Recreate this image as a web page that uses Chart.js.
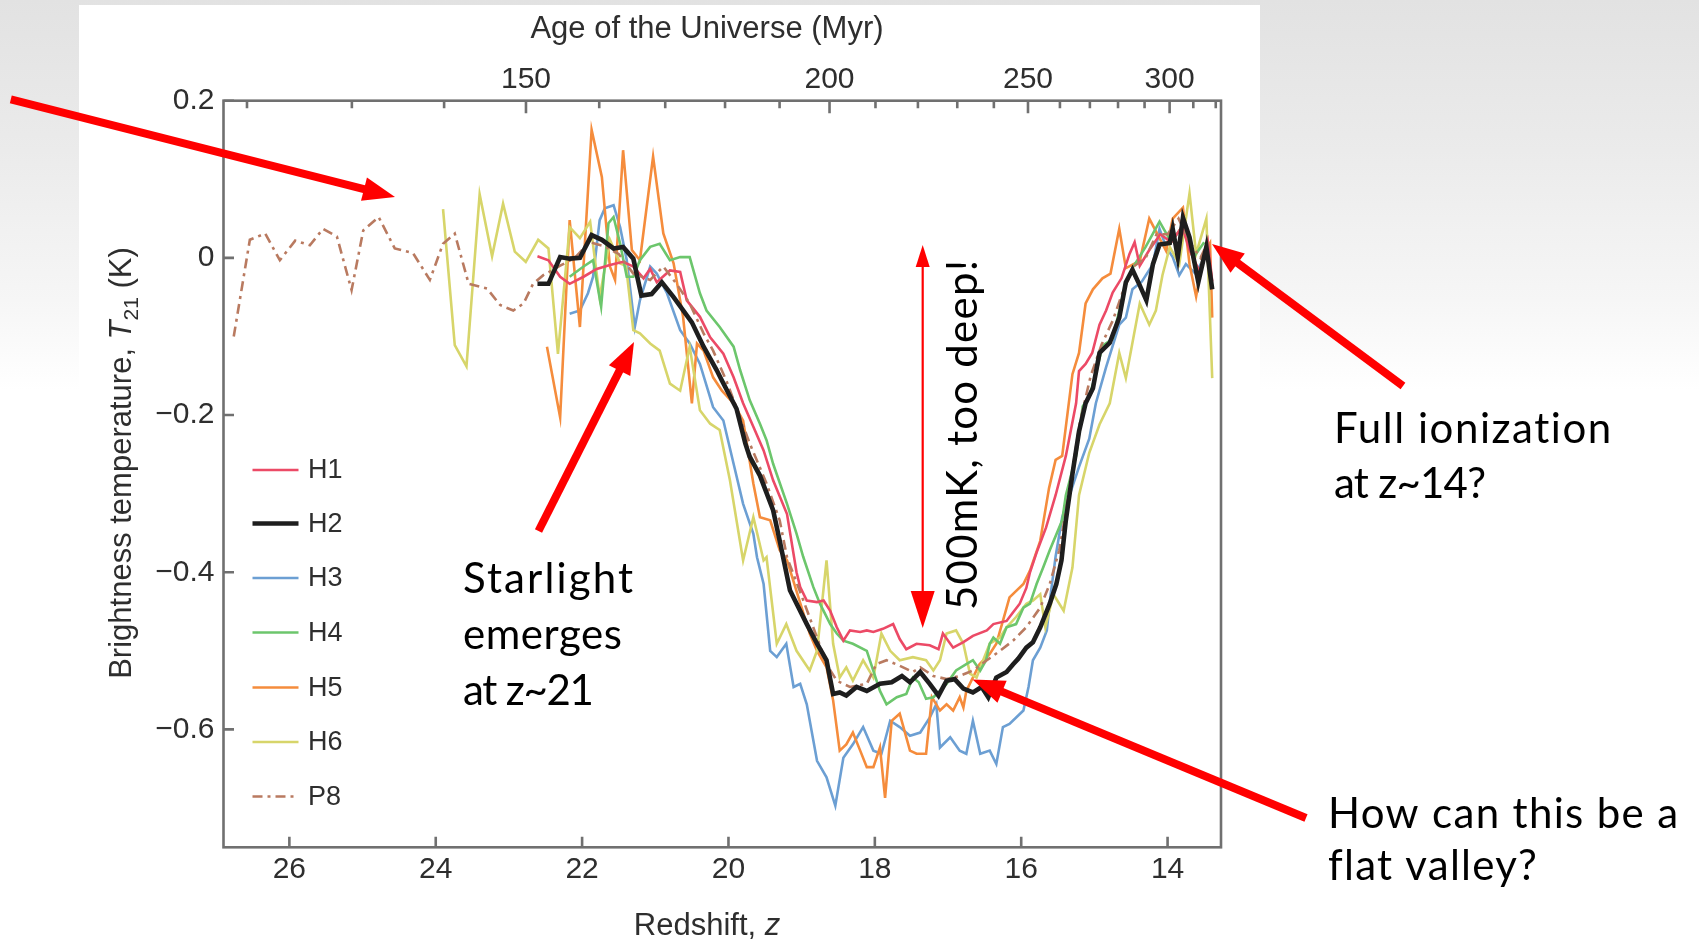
<!DOCTYPE html>
<html><head><meta charset="utf-8">
<script src="https://cdn.jsdelivr.net/npm/chart.js@4.4.1/dist/chart.umd.min.js"></script>
<style>
html,body{margin:0;padding:0;}
body{width:1699px;height:940px;overflow:hidden;position:relative;
 background:linear-gradient(to bottom,#e2e2e2 0px,#ebebeb 150px,#f6f6f6 300px,#ffffff 390px,#ffffff 940px);}
#panel{position:absolute;left:79px;top:5px;width:1181px;height:935px;background:#fff;}
#c{position:absolute;left:0;top:0;}
</style></head>
<body><div id="panel"></div><canvas id="c" width="1699" height="940"></canvas>
<script>
// ---------- data (redshift z, brightness temperature T21 in K) ----------
const H1 = [[22.61,0.002],[22.46,-0.003],[22.30,-0.024],[22.17,-0.033],[21.98,-0.024],[21.80,-0.014],[21.62,-0.009],[21.44,-0.005],[21.30,-0.011],[21.16,-0.026],[21.07,-0.014],[20.98,-0.031],[20.80,-0.016],[20.66,-0.018],[20.57,-0.054],[20.39,-0.075],[20.25,-0.101],[20.07,-0.122],[19.93,-0.152],[19.80,-0.185],[19.66,-0.215],[19.52,-0.245],[19.39,-0.283],[19.20,-0.326],[19.07,-0.400],[19.02,-0.419],[18.93,-0.436],[18.79,-0.438],[18.70,-0.436],[18.61,-0.449],[18.52,-0.470],[18.43,-0.487],[18.34,-0.474],[18.20,-0.476],[18.11,-0.474],[18.02,-0.476],[17.89,-0.472],[17.75,-0.466],[17.66,-0.485],[17.57,-0.498],[17.43,-0.491],[17.25,-0.493],[17.13,-0.498],[17.07,-0.478],[16.93,-0.496],[16.79,-0.489],[16.66,-0.481],[16.47,-0.474],[16.38,-0.466],[16.20,-0.462],[16.11,-0.451],[16.02,-0.440],[15.93,-0.420],[15.88,-0.400],[15.79,-0.375],[15.66,-0.343],[15.53,-0.302],[15.39,-0.252],[15.25,-0.185],[15.21,-0.144],[15.12,-0.135],[15.03,-0.121],[14.93,-0.085],[14.84,-0.067],[14.75,-0.044],[14.63,-0.026],[14.52,0.005],[14.45,0.020],[14.38,-0.010],[14.25,0.010],[14.10,0.030],[13.95,0.020],[13.80,0.040],[13.70,0.010],[13.55,-0.020],[13.45,0.020],[13.39,-0.030]];
const H2 = [[22.61,-0.033],[22.46,-0.033],[22.30,0.001],[22.17,-0.001],[22.03,0.000],[21.87,0.029],[21.73,0.023],[21.57,0.012],[21.44,0.014],[21.30,-0.001],[21.19,-0.048],[21.05,-0.046],[20.91,-0.031],[20.75,-0.050],[20.50,-0.082],[20.34,-0.113],[20.16,-0.143],[20.09,-0.156],[19.89,-0.192],[19.77,-0.236],[19.71,-0.253],[19.57,-0.277],[19.39,-0.321],[19.30,-0.360],[19.16,-0.423],[18.93,-0.466],[18.79,-0.491],[18.66,-0.512],[18.57,-0.555],[18.48,-0.553],[18.39,-0.557],[18.25,-0.546],[18.11,-0.551],[17.93,-0.542],[17.77,-0.540],[17.63,-0.532],[17.52,-0.540],[17.38,-0.527],[17.25,-0.542],[17.13,-0.557],[17.02,-0.538],[16.91,-0.536],[16.79,-0.548],[16.66,-0.553],[16.54,-0.546],[16.45,-0.559],[16.34,-0.534],[16.20,-0.527],[16.11,-0.517],[16.04,-0.510],[15.93,-0.496],[15.84,-0.489],[15.74,-0.470],[15.61,-0.440],[15.52,-0.415],[15.45,-0.385],[15.39,-0.334],[15.30,-0.275],[15.21,-0.221],[15.12,-0.185],[15.02,-0.166],[14.93,-0.121],[14.79,-0.108],[14.66,-0.076],[14.57,-0.031],[14.48,-0.015],[14.38,-0.035],[14.29,-0.054],[14.20,-0.008],[14.11,0.017],[13.97,0.019],[13.93,0.037],[13.86,0.001],[13.79,0.051],[13.70,0.026],[13.58,-0.031],[13.47,0.014],[13.39,-0.040]];
const H3 = [[22.17,-0.071],[22.03,-0.067],[21.92,-0.045],[21.85,-0.024],[21.76,0.048],[21.69,0.063],[21.57,0.067],[21.48,0.039],[21.39,-0.003],[21.28,-0.088],[21.21,-0.054],[21.07,-0.011],[20.98,-0.020],[20.84,-0.045],[20.66,-0.092],[20.53,-0.109],[20.39,-0.135],[20.21,-0.190],[20.07,-0.207],[19.93,-0.262],[19.80,-0.313],[19.66,-0.351],[19.61,-0.381],[19.52,-0.415],[19.43,-0.500],[19.34,-0.508],[19.21,-0.491],[19.11,-0.546],[19.02,-0.542],[18.93,-0.568],[18.79,-0.640],[18.66,-0.661],[18.54,-0.697],[18.43,-0.636],[18.30,-0.619],[18.16,-0.597],[18.02,-0.627],[17.91,-0.631],[17.79,-0.589],[17.66,-0.597],[17.52,-0.608],[17.38,-0.604],[17.25,-0.585],[17.16,-0.568],[17.11,-0.623],[16.97,-0.610],[16.84,-0.627],[16.75,-0.631],[16.66,-0.589],[16.56,-0.631],[16.43,-0.627],[16.34,-0.644],[16.25,-0.597],[16.16,-0.593],[15.97,-0.576],[15.90,-0.546],[15.84,-0.512],[15.74,-0.496],[15.65,-0.474],[15.60,-0.430],[15.53,-0.380],[15.44,-0.330],[15.21,-0.266],[15.07,-0.230],[14.98,-0.185],[14.84,-0.139],[14.75,-0.112],[14.66,-0.085],[14.57,-0.076],[14.48,-0.040],[14.35,-0.030],[14.20,-0.008],[14.11,0.037],[14.02,0.014],[13.93,0.001],[13.84,-0.022],[13.75,-0.008],[13.62,-0.020],[13.50,0.000]];
const H4 = [[22.17,-0.024],[21.98,-0.011],[21.85,-0.003],[21.74,-0.062],[21.64,0.044],[21.57,0.052],[21.48,0.018],[21.39,-0.024],[21.30,-0.024],[21.21,-0.003],[21.07,0.014],[20.94,0.018],[20.80,-0.003],[20.66,0.001],[20.53,0.001],[20.39,-0.045],[20.30,-0.067],[20.12,-0.088],[19.93,-0.113],[19.84,-0.143],[19.71,-0.181],[19.57,-0.211],[19.48,-0.232],[19.39,-0.262],[19.20,-0.313],[19.07,-0.351],[18.98,-0.380],[18.84,-0.419],[18.75,-0.440],[18.61,-0.466],[18.52,-0.478],[18.43,-0.487],[18.30,-0.491],[18.11,-0.500],[17.93,-0.551],[17.84,-0.568],[17.70,-0.559],[17.57,-0.555],[17.48,-0.534],[17.40,-0.540],[17.30,-0.561],[17.20,-0.559],[17.11,-0.551],[17.02,-0.542],[16.89,-0.525],[16.75,-0.517],[16.66,-0.512],[16.56,-0.525],[16.48,-0.512],[16.43,-0.491],[16.38,-0.483],[16.29,-0.491],[16.20,-0.470],[16.07,-0.466],[15.97,-0.445],[15.88,-0.440],[15.79,-0.415],[15.70,-0.394],[15.61,-0.372],[15.44,-0.334],[15.39,-0.302],[15.25,-0.252],[15.16,-0.189],[15.07,-0.176],[14.98,-0.148],[14.89,-0.112],[14.75,-0.103],[14.66,-0.067],[14.57,-0.031],[14.48,-0.013],[14.30,0.014],[14.11,0.046],[13.95,0.020],[13.80,0.040],[13.65,0.000],[13.50,0.020]];
const H5 = [[22.48,-0.113],[22.30,-0.203],[22.17,0.048],[22.03,-0.088],[21.87,0.163],[21.73,0.103],[21.62,-0.011],[21.55,-0.028],[21.44,0.137],[21.32,0.010],[21.21,-0.003],[21.03,0.129],[20.89,0.031],[20.75,-0.007],[20.62,-0.075],[20.50,-0.185],[20.43,-0.109],[20.34,-0.118],[20.21,-0.152],[20.09,-0.169],[19.93,-0.185],[19.80,-0.207],[19.66,-0.287],[19.57,-0.330],[19.43,-0.334],[19.30,-0.372],[19.20,-0.385],[19.05,-0.430],[18.89,-0.478],[18.79,-0.500],[18.66,-0.521],[18.57,-0.563],[18.48,-0.627],[18.39,-0.619],[18.30,-0.604],[18.20,-0.627],[18.11,-0.648],[18.02,-0.648],[17.93,-0.623],[17.86,-0.687],[17.77,-0.589],[17.66,-0.580],[17.52,-0.627],[17.43,-0.631],[17.30,-0.631],[17.22,-0.559],[17.11,-0.576],[17.02,-0.568],[16.93,-0.576],[16.84,-0.559],[16.79,-0.572],[16.75,-0.551],[16.57,-0.517],[16.43,-0.504],[16.34,-0.491],[16.25,-0.462],[16.16,-0.432],[15.97,-0.415],[15.88,-0.398],[15.74,-0.360],[15.62,-0.293],[15.53,-0.257],[15.44,-0.252],[15.30,-0.148],[15.21,-0.121],[15.12,-0.058],[15.02,-0.040],[14.89,-0.026],[14.78,-0.020],[14.66,0.037],[14.57,-0.013],[14.38,-0.004],[14.25,0.050],[14.02,0.009],[13.93,0.050],[13.79,0.064],[13.70,-0.008],[13.61,-0.049],[13.51,0.005],[13.42,0.019],[13.39,-0.076]];
const H6 = [[23.90,0.062],[23.74,-0.111],[23.58,-0.138],[23.40,0.081],[23.23,0.002],[23.08,0.069],[22.92,0.008],[22.77,-0.005],[22.60,0.023],[22.46,0.012],[22.33,-0.122],[22.17,0.039],[22.03,0.025],[21.89,0.046],[21.76,-0.050],[21.62,0.023],[21.48,-0.007],[21.40,-0.010],[21.30,-0.092],[21.21,-0.096],[21.07,-0.109],[20.94,-0.118],[20.80,-0.160],[20.66,-0.169],[20.53,-0.113],[20.39,-0.194],[20.25,-0.211],[20.12,-0.219],[19.98,-0.283],[19.80,-0.385],[19.66,-0.330],[19.52,-0.385],[19.48,-0.381],[19.34,-0.491],[19.21,-0.466],[19.07,-0.500],[18.89,-0.525],[18.79,-0.500],[18.66,-0.385],[18.57,-0.491],[18.48,-0.534],[18.39,-0.521],[18.30,-0.538],[18.16,-0.512],[18.02,-0.534],[17.91,-0.478],[17.79,-0.500],[17.66,-0.512],[17.48,-0.508],[17.30,-0.512],[17.20,-0.525],[17.11,-0.512],[17.02,-0.478],[16.89,-0.474],[16.79,-0.491],[16.70,-0.529],[16.61,-0.534],[16.52,-0.512],[16.43,-0.491],[16.29,-0.483],[16.20,-0.470],[16.07,-0.457],[15.93,-0.440],[15.84,-0.436],[15.74,-0.428],[15.67,-0.470],[15.56,-0.428],[15.42,-0.449],[15.30,-0.394],[15.21,-0.302],[15.07,-0.248],[14.93,-0.212],[14.79,-0.185],[14.66,-0.121],[14.57,-0.153],[14.48,-0.108],[14.38,-0.058],[14.25,-0.085],[14.16,-0.067],[14.07,-0.022],[13.97,0.014],[13.84,-0.008],[13.70,0.082],[13.61,0.005],[13.47,0.050],[13.39,-0.153]];
const P8 = [[26.76,-0.100],[26.54,0.023],[26.33,0.031],[26.13,-0.003],[25.92,0.022],[25.72,0.016],[25.54,0.037],[25.35,0.027],[25.15,-0.041],[24.99,0.035],[24.78,0.052],[24.56,0.012],[24.31,0.006],[24.08,-0.028],[23.90,0.018],[23.74,0.031],[23.55,-0.033],[23.30,-0.039],[23.12,-0.060],[22.94,-0.067],[22.80,-0.058],[22.67,-0.033],[22.53,-0.022],[22.30,-0.010],[22.10,0.000],[21.90,0.020],[21.70,0.015],[21.50,0.005],[21.30,-0.020],[21.07,-0.028],[20.89,-0.011],[20.71,-0.033],[20.53,-0.058],[20.34,-0.096],[20.21,-0.118],[20.03,-0.156],[19.84,-0.203],[19.71,-0.236],[19.48,-0.287],[19.30,-0.334],[19.20,-0.381],[19.00,-0.430],[18.79,-0.483],[18.66,-0.517],[18.52,-0.538],[18.34,-0.546],[18.11,-0.542],[17.98,-0.517],[17.84,-0.512],[17.66,-0.519],[17.48,-0.527],[17.38,-0.521],[17.20,-0.532],[17.02,-0.536],[16.84,-0.532],[16.66,-0.525],[16.47,-0.512],[16.29,-0.500],[16.11,-0.487],[15.93,-0.470],[15.74,-0.445],[15.61,-0.415],[15.48,-0.372],[15.35,-0.300],[15.20,-0.210],[15.05,-0.150],[14.90,-0.110],[14.75,-0.080],[14.60,-0.040],[14.45,-0.010],[14.30,0.000],[14.15,0.030],[14.00,0.030],[13.85,0.050],[13.70,0.020],[13.55,0.000],[13.45,0.020]];

const seriesNames = ['H1','H2','H3','H4','H5','H6','P8'];
const seriesData  = [H1, H2, H3, H4, H5, H6, P8];
const seriesColors = ['#ec4a66','#1e1e1e','#6c9fd3','#6cc66c','#f58c3c','#d7d56a','#b97a60'];

// axis ticks
const zTicks = [26,24,22,20,18,16,14];
const yTicks = [0.2,0,-0.2,-0.4,-0.6];
const ageTicks = [120,130,140,150,160,170,180,190,200,210,220,230,240,250,260,270,280,290,300,310,320];
const ageMajor = [150,200,250,300];
const Z_MIN = 13.27, Z_MAX = 26.9, T_MIN = -0.75, T_MAX = 0.2;
const AGE_K = 17380; // Myr, matter-dominated age–redshift relation t = K (1+z)^-1.5
const zOfAge = a => Math.pow(AGE_K / a, 2/3) - 1;

// ---------- styles ----------
const FONT = "'Liberation Sans', Arial, Helvetica, sans-serif";
const ANN_FONT_FAMILY = "Lato, 'Open Sans', sans-serif";
const TXT = '#2e2e2e';
const AXIS = '#707070';
const RED = '#ff0000';
const widths = [2.6,4.6,2.6,2.6,2.6,2.6,2.6];
const dashes = [[],[],[],[],[],[],[10,5,3,5]];
const drawOrder = [2,0,6,3,5,4,1]; // higher = drawn earlier

const datasets = seriesNames.map((n,i)=>({
  label:n,
  data: seriesData[i].map(p=>({x:p[0], y:p[1]})),
  borderColor: seriesColors[i],
  backgroundColor: seriesColors[i],
  borderWidth: widths[i],
  borderDash: dashes[i],
  pointRadius:0, tension:0, fill:false,
  order: drawOrder[i]
}));

function fmtT(v){ if (Math.abs(v)<1e-9) return '0'; return (v<0?'\u2212':'') + Math.abs(v).toFixed(1); }

function arrow(ctx,x1,y1,x2,y2,w,hl,hw){
  const dx=x2-x1, dy=y2-y1, L=Math.hypot(dx,dy), ux=dx/L, uy=dy/L;
  const bx=x2-ux*hl, by=y2-uy*hl;
  ctx.beginPath(); ctx.moveTo(x1,y1); ctx.lineTo(bx+ux*1,by+uy*1);
  ctx.lineWidth=w; ctx.lineCap='butt'; ctx.stroke();
  ctx.beginPath(); ctx.moveTo(x2,y2);
  ctx.lineTo(bx-uy*hw/2, by+ux*hw/2); ctx.lineTo(bx+uy*hw/2, by-ux*hw/2); ctx.closePath(); ctx.fill();
}
function drawFit(ctx,text,x,y,target){
  ctx.letterSpacing='0px';
  const w=ctx.measureText(text).width; const n=[...text].length;
  const sp = n>1 ? (target-w)/(n-1) : 0;
  ctx.letterSpacing = sp.toFixed(2)+'px';
  ctx.fillText(text,x,y);
  ctx.letterSpacing='0px';
}

const framePlugin = {
  id:'frame',
  afterDatasetsDraw(chart){
    const {ctx, chartArea:a, scales} = chart;
    ctx.save();
    // frame
    ctx.strokeStyle=AXIS; ctx.lineWidth=2.6;
    ctx.strokeRect(a.left,a.top,a.right-a.left,a.bottom-a.top);
    ctx.beginPath();
    scales.x.ticks.forEach(t=>{const p=scales.x.getPixelForValue(t.value); ctx.moveTo(p,a.bottom); ctx.lineTo(p,a.bottom-10.5);});
    scales.y.ticks.forEach(t=>{const p=scales.y.getPixelForValue(t.value); ctx.moveTo(a.left,p); ctx.lineTo(a.left+10.5,p);});
    scales.x2.ticks.forEach((t,i)=>{const p=scales.x2.getPixelForValue(t.value); const L=ageMajor.includes(ageTicks[i])?12.5:7.5; ctx.moveTo(p,a.top); ctx.lineTo(p,a.top+L);});
    ctx.stroke();

    // legend (inside plot)
    const legY=[470,523.5,578,632.5,687.5,742,796.5];
    ctx.textBaseline='middle'; ctx.textAlign='left';
    ctx.font='27px '+FONT;
    chart.data.datasets.forEach((d,i)=>{
      ctx.strokeStyle=d.borderColor; ctx.lineWidth=d.borderWidth; ctx.setLineDash(d.borderDash||[]);
      ctx.beginPath(); ctx.moveTo(252.5,legY[i]); ctx.lineTo(298.5,legY[i]); ctx.stroke();
      ctx.setLineDash([]);
      ctx.fillStyle=TXT; ctx.fillText(d.label,308,legY[i]+1);
    });

    // axis titles
    ctx.fillStyle=TXT; ctx.textAlign='center'; ctx.textBaseline='alphabetic';
    ctx.font='31px '+FONT;
    ctx.fillText('Age of the Universe (Myr)',707,38);
    // Redshift, z
    const p1='Redshift, ', p2='z';
    const w1=ctx.measureText(p1).width; ctx.font='italic 31px '+FONT; const w2=ctx.measureText(p2).width;
    let sx=707-(w1+w2)/2; ctx.textAlign='left';
    ctx.font='31px '+FONT; ctx.fillText(p1,sx,935);
    ctx.font='italic 31px '+FONT; ctx.fillText(p2,sx+w1,935);
    // y title rotated
    ctx.save(); ctx.translate(131,463); ctx.rotate(-Math.PI/2);
    const parts=[['Brightness temperature, ','31px '+FONT,0],['T','italic 31px '+FONT,0],['21','21px '+FONT,7],[' (K)','31px '+FONT,0]];
    let tw=0; parts.forEach(p=>{ctx.font=p[1]; p.push(ctx.measureText(p[0]).width); tw+=p[3];});
    let cx=-tw/2; ctx.textAlign='left';
    parts.forEach(p=>{ctx.font=p[1]; ctx.fillText(p[0],cx,p[2]); cx+=p[3];});
    ctx.restore();

    // annotations
    ctx.fillStyle=RED; ctx.strokeStyle=RED;
    arrow(ctx,10.8,99.4,395,197,8,32,24);
    arrow(ctx,538.5,531,634,342,8,32,24);
    arrow(ctx,1403,386,1212,244,8,32,24);
    arrow(ctx,1306,818,972.5,679.5,8,32,24);
    // double vertical arrow
    ctx.lineWidth=2.2;
    ctx.beginPath(); ctx.moveTo(922.7,262); ctx.lineTo(922.7,595); ctx.stroke();
    ctx.beginPath(); ctx.moveTo(922.7,245); ctx.lineTo(915.7,267); ctx.lineTo(929.7,267); ctx.closePath(); ctx.fill();
    ctx.beginPath(); ctx.moveTo(922.7,628); ctx.lineTo(910.7,591); ctx.lineTo(934.7,591); ctx.closePath(); ctx.fill();

    ctx.fillStyle='#000'; ctx.textAlign='left'; ctx.textBaseline='alphabetic';
    ctx.font='42px '+ANN_FONT_FAMILY;
    drawFit(ctx,'Starlight',463,593,170);
    drawFit(ctx,'emerges',463,649,159);
    drawFit(ctx,'at z~21',463,705,131);
    drawFit(ctx,'Full ionization',1334,443,278);
    drawFit(ctx,'at z~14?',1334,498,152);
    drawFit(ctx,'How can this be a',1328,828,350);
    drawFit(ctx,'flat valley?',1328,880,209);
    ctx.save(); ctx.translate(977,610); ctx.rotate(-Math.PI/2);
    drawFit(ctx,'500mK, too deep!',0,0,350);
    ctx.restore();
    ctx.restore();
  }
};

const tickFont = {family:FONT, size:30};
new Chart(document.getElementById('c').getContext('2d'), {
  type:'line',
  data:{datasets},
  options:{
    responsive:false, animation:false, devicePixelRatio:1,
    layout:{padding:{left:0,right:1699-1221,top:0,bottom:0}},
    plugins:{legend:{display:false}, tooltip:{enabled:false}},
    scales:{
      x:{type:'linear', position:'bottom', min:Z_MIN, max:Z_MAX, reverse:true,
         afterBuildTicks:s=>{s.ticks=zTicks.map(v=>({value:v}));},
         afterFit:s=>{s.height=92.7;},
         grid:{display:false, drawTicks:false}, border:{display:false},
         ticks:{font:tickFont, color:TXT, padding:4, autoSkip:false, maxRotation:0, callback:v=>String(v)}},
      x2:{type:'linear', position:'top', min:Z_MIN, max:Z_MAX, reverse:true,
         afterBuildTicks:s=>{s.ticks=ageTicks.map(a=>({value:zOfAge(a)}));},
         afterFit:s=>{s.height=100.7;},
         grid:{display:false, drawTicks:false}, border:{display:false},
         ticks:{font:tickFont, color:TXT, padding:3, autoSkip:false, maxRotation:0,
                callback:(v,i)=> ageMajor.includes(ageTicks[i]) ? String(ageTicks[i]) : ''}},
      y:{type:'linear', position:'left', min:T_MIN, max:T_MAX,
         afterBuildTicks:s=>{s.ticks=yTicks.map(v=>({value:v}));},
         afterFit:s=>{s.width=223.5;},
         grid:{display:false, drawTicks:false}, border:{display:false},
         ticks:{font:tickFont, color:TXT, padding:9, autoSkip:false, callback:v=>fmtT(v)}}
    }
  },
  plugins:[framePlugin]
});
</script></body></html>
